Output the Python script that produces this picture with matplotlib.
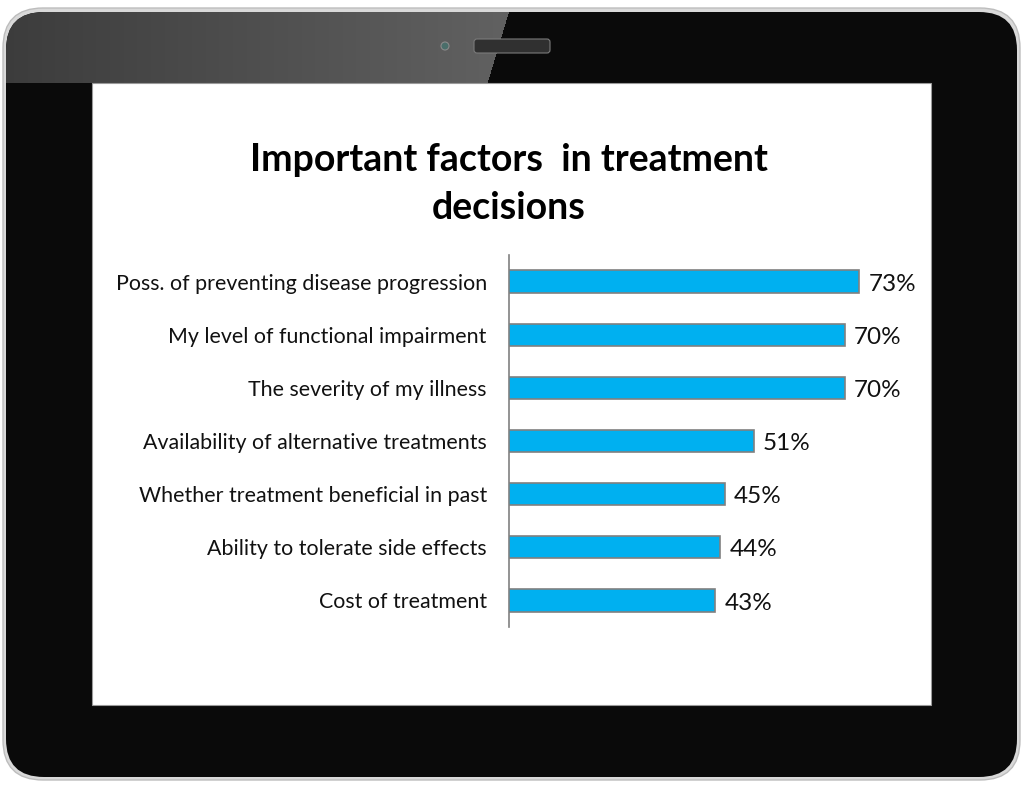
import matplotlib
matplotlib.use("Agg")
import matplotlib.pyplot as plt
import numpy as np
from matplotlib.patches import FancyBboxPatch, Rectangle, Circle

categories = [
    "Poss. of preventing disease progression",
    "My level of functional impairment",
    "The severity of my illness",
    "Availability of alternative treatments",
    "Whether treatment beneficial in past",
    "Ability to tolerate side effects",
    "Cost of treatment",
]
values = [73, 70, 70, 51, 45, 44, 43]
value_labels = ["73%", "70%", "70%", "51%", "45%", "44%", "43%"]
title = "Important factors  in treatment\ndecisions"

W, H = 1024, 789
fig = plt.figure(figsize=(W / 100, H / 100), dpi=100)
fig.patch.set_facecolor("white")

# ---- tablet frame (pixel-coordinate background axes) ----
bg = fig.add_axes([0, 0, 1, 1])
bg.set_xlim(0, W)
bg.set_ylim(H, 0)
bg.axis("off")

rim = FancyBboxPatch((3 + 40, 8 + 40), 1017 - 80, 772 - 80,
                     boxstyle="round,pad=40", fc="#d9d9d9", ec="#bdbdbd", lw=1.0)
bg.add_patch(rim)
body = FancyBboxPatch((6 + 38, 12 + 38), 1011 - 76, 765 - 76,
                      boxstyle="round,pad=38", fc="#0a0a0a", ec="none")
bg.add_patch(body)

# gloss on upper-left bezel (RGBA image, masked to a slanted region, clipped to body)
gh, gw = 90, 520
yy, xx = np.mgrid[0:gh, 0:gw]
t = xx / gw
c0 = np.array([0x3c, 0x3c, 0x3c]) / 255
c1 = np.array([0x62, 0x62, 0x62]) / 255
rgba = np.zeros((gh, gw, 4))
for k in range(3):
    rgba[..., k] = c0[k] + (c1[k] - c0[k]) * t
edge = 512 - 25 * (yy / 83.0)
rgba[..., 3] = ((xx < edge) & (yy < 83)).astype(float)
im = bg.imshow(rgba, extent=(0, gw, gh, 0), aspect="auto",
               interpolation="nearest", zorder=2)
im.set_clip_path(body)
bg.set_xlim(0, W)
bg.set_ylim(H, 0)

# camera and speaker
bg.add_patch(Circle((445, 46), 4, fc="#4a6e6a", ec="#8a8a8a", lw=0.8, zorder=4))
bg.add_patch(FancyBboxPatch((477, 42), 70, 8, boxstyle="round,pad=3",
                            fc="#303030", ec="#7a7a7a", lw=0.8, zorder=4))

# screen
bg.add_patch(Rectangle((92, 83), 839, 622, fc="white", ec="#9a9a9a", lw=0.8, zorder=5))

# ---- chart ----
ax_left, ax_right = 509, 893
ax_top, ax_bottom = 255, 627
ax = fig.add_axes([ax_left / W, 1 - ax_bottom / H,
                   (ax_right - ax_left) / W, (ax_bottom - ax_top) / H])
ax.set_facecolor("none")
y = np.arange(len(categories))
ax.barh(y, values, height=0.42, color="#00B0F0", edgecolor="#808080", linewidth=1.2, zorder=3)
ax.set_xlim(0, 80)
ax.set_ylim(len(categories) - 0.5, -0.5)
ax.set_yticks(y)
ax.set_yticklabels(categories, fontsize=15.4, family=["Lato", "DejaVu Sans"], color="#111111")
ax.tick_params(axis="y", length=0, pad=16)
ax.set_xticks([])
for s in ["top", "right", "bottom"]:
    ax.spines[s].set_visible(False)
ax.spines["left"].set_color("#808080")
ax.spines["left"].set_linewidth(1.2)
for yi, v, lab in zip(y, values, value_labels):
    ax.text(v + 1.9, yi + 0.05, lab, va="center", ha="left", fontsize=17.5,
            family=["Lato", "DejaVu Sans"], color="#111111")

fig.text(509 / W, 1 - 184 / H, title, ha="center", va="center", fontsize=27,
         fontweight="bold", family=["Lato", "DejaVu Sans"], color="black",
         linespacing=1.5)

fig.savefig("out.png", dpi=100)
